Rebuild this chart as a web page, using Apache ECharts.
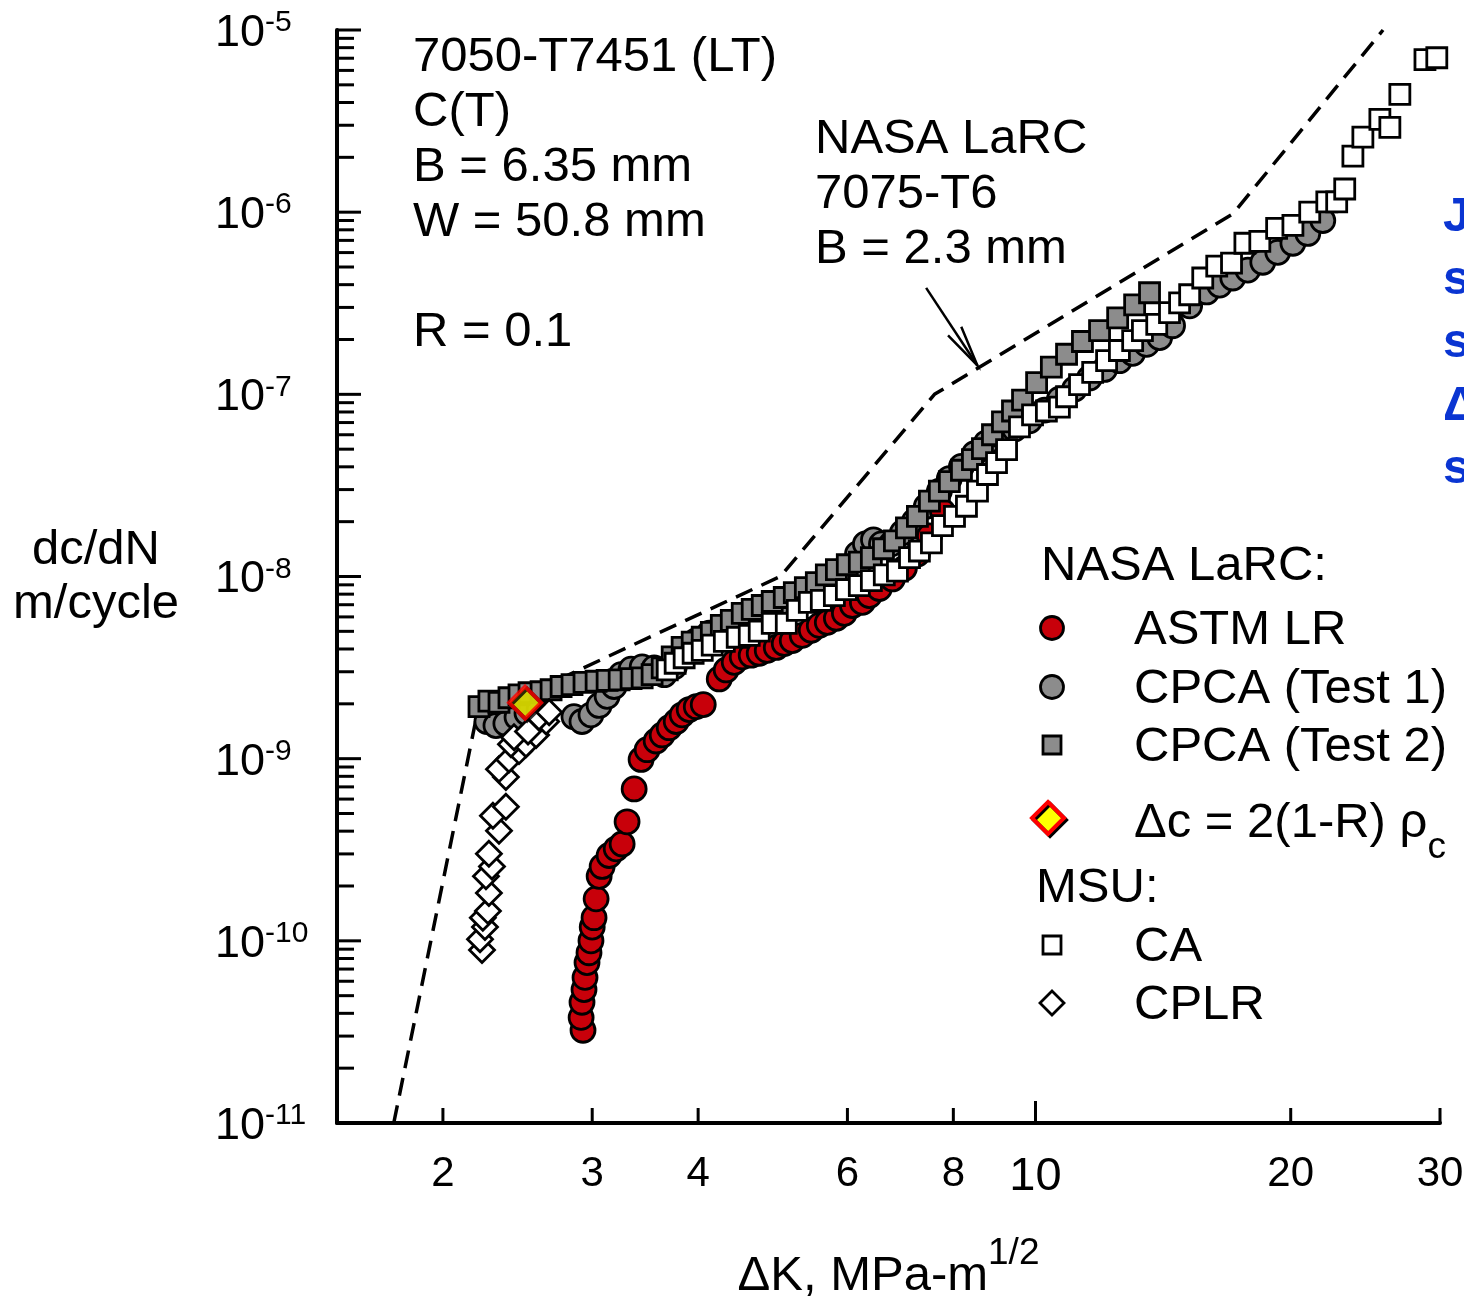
<!DOCTYPE html>
<html><head><meta charset="utf-8">
<script src="https://cdn.jsdelivr.net/npm/echarts@6/dist/echarts.min.js"></script>
<style>html,body{margin:0;padding:0;background:#fff}#c{width:1464px;height:1306px}</style>
</head><body><div id="c"></div>
<script>
// ---------------- DATA ----------------
const astmLR = [[2.926,3.23e-11],[2.911,3.80e-11],[2.918,4.60e-11],[2.934,5.40e-11],[2.942,6.30e-11],[2.958,7.6e-11],[2.974,8.6e-11],[2.990,1.0e-10],[3.0,1.19e-10],[3.015,1.34e-10],[3.032,1.70e-10],[3.057,2.26e-10],[3.082,2.56e-10],[3.141,2.94e-10],[3.202,3.20e-10],[3.254,3.40e-10],[3.298,4.50e-10],[3.362,6.82e-10],[3.426,9.9e-10],[3.483,1.12e-9],[3.569,1.25e-9],[3.628,1.35e-9],[3.698,1.48e-9],[3.769,1.60e-9],[3.830,1.74e-9],[3.904,1.86e-9],[3.980,1.93e-9],[4.056,1.98e-9],[4.236,2.74e-9],[4.317,3.07e-9],[4.412,3.38e-9],[4.509,3.62e-9],[4.620,3.70e-9],[4.722,3.79e-9],[4.826,3.93e-9],[4.946,4.08e-9],[5.054,4.29e-9],[5.165,4.45e-9],[5.307,4.75e-9],[5.439,5.07e-9],[5.559,5.39e-9],[5.681,5.60e-9],[5.823,5.90e-9],[5.951,6.28e-9],[6.082,6.93e-9],[6.249,7.21e-9],[6.368,7.86e-9],[6.543,8.59e-9],[6.780,9.7e-9],[7.004,1.11e-8],[7.256,1.33e-8],[7.497,1.67e-8],[7.767,2.28e-8]];

const cpcaTest1 = [[2.254,1.60e-9],[2.310,1.52e-9],[2.373,1.56e-9],[2.446,1.69e-9],[2.513,1.78e-9],[2.597,1.86e-9],[2.855,1.70e-9],[2.918,1.60e-9],[2.990,1.74e-9],[3.057,1.96e-9],[3.124,2.20e-9],[3.184,2.49e-9],[3.245,2.89e-9],[3.334,3.10e-9],[3.436,3.19e-9],[3.550,3.15e-9],[3.648,2.89e-9],[3.749,3.19e-9],[3.851,3.70e-9],[3.980,4.45e-9],[4.123,4.88e-9],[4.295,5.26e-9],[4.472,5.67e-9],[4.658,6.19e-9],[4.853,6.68e-9],[5.054,7.29e-9],[5.265,7.96e-9],[5.484,8.59e-9],[5.713,9.6e-9],[5.951,1.10e-8],[6.166,1.33e-8],[6.301,1.51e-8],[6.440,1.59e-8],[6.581,1.51e-8],[6.761,1.51e-8],[6.966,1.74e-8],[7.197,2.01e-8],[7.435,2.43e-8],[7.702,2.94e-8],[7.914,3.45e-8],[8.178,4.02e-8],[8.472,4.72e-8],[8.752,5.42e-8],[9.067,6.00e-8],[9.445,6.46e-8],[9.838,7.15e-8],[10.25,8.20e-8],[10.67,9.4e-8],[11.12,1.07e-7],[11.58,1.23e-7],[12.06,1.37e-7],[12.56,1.53e-7],[13.02,1.68e-7],[13.52,1.88e-7],[14.01,2.05e-7],[14.51,2.38e-7],[15.20,3.06e-7],[15.92,3.65e-7],[16.49,3.98e-7],[17.09,4.35e-7],[17.80,4.81e-7],[18.54,5.31e-7],[19.31,6.02e-7],[20.12,6.75e-7],[20.95,7.64e-7],[21.82,9.0e-7]];

const cpcaTest2 = [[2.206,1.93e-9],[2.266,2.07e-9],[2.329,2.04e-9],[2.393,2.16e-9],[2.459,2.24e-9],[2.527,2.30e-9],[2.611,2.33e-9],[2.683,2.39e-9],[2.757,2.49e-9],[2.840,2.55e-9],[2.934,2.62e-9],[3.032,2.66e-9],[3.124,2.69e-9],[3.228,2.71e-9],[3.334,2.75e-9],[3.436,2.78e-9],[3.530,2.89e-9],[3.628,3.15e-9],[3.728,3.62e-9],[3.830,4.08e-9],[3.936,4.36e-9],[4.045,4.64e-9],[4.146,4.94e-9],[4.260,5.39e-9],[4.377,5.74e-9],[4.509,6.28e-9],[4.633,6.60e-9],[4.761,6.93e-9],[4.892,7.29e-9],[5.054,7.67e-9],[5.194,8.16e-9],[5.352,8.69e-9],[5.514,9.25e-9],[5.666,1.02e-8],[5.823,1.09e-8],[5.998,1.16e-8],[6.197,1.20e-8],[6.403,1.27e-8],[6.617,1.42e-8],[6.817,1.57e-8],[7.043,1.85e-8],[7.256,2.14e-8],[7.497,2.59e-8],[7.702,2.94e-8],[7.914,3.32e-8],[8.178,3.83e-8],[8.426,4.38e-8],[8.658,5.03e-8],[8.897,6.00e-8],[9.142,7.06e-8],[9.394,8.10e-8],[9.654,9.3e-8],[10.03,1.16e-7],[10.44,1.41e-7],[10.88,1.66e-7],[11.36,1.95e-7],[11.90,2.24e-7],[12.50,2.63e-7],[13.09,3.10e-7],[13.63,3.61e-7]];

const msuCA = [[3.678,3.07e-9],[3.758,3.34e-9],[3.851,3.58e-9],[3.946,3.79e-9],[4.045,3.93e-9],[4.156,4.20e-9],[4.295,4.40e-9],[4.448,4.64e-9],[4.596,4.75e-9],[4.722,5.01e-9],[4.892,5.53e-9],[5.082,5.53e-9],[5.236,6.51e-9],[5.410,7.21e-9],[5.589,7.39e-9],[5.791,7.86e-9],[5.983,8.48e-9],[6.197,8.91e-9],[6.403,9.5e-9],[6.632,1.02e-8],[6.873,1.07e-8],[7.102,1.27e-8],[7.295,1.38e-8],[7.538,1.53e-8],[7.767,1.90e-8],[8.025,2.14e-8],[8.290,2.43e-8],[8.542,2.94e-8],[8.777,3.63e-8],[8.995,4.22e-8],[9.244,4.97e-8],[9.574,6.63e-8],[9.920,7.71e-8],[10.30,8.10e-8],[10.67,8.51e-8],[10.88,9.7e-8],[11.27,1.13e-7],[11.68,1.32e-7],[12.13,1.53e-7],[12.56,1.74e-7],[13.02,1.97e-7],[13.37,2.24e-7],[13.90,2.42e-7],[14.39,2.81e-7],[14.79,3.18e-7],[15.20,3.52e-7],[15.75,4.35e-7],[16.36,5.06e-7],[17.03,5.25e-7],[17.66,6.75e-7],[18.39,6.92e-7],[19.25,8.14e-7],[20.12,8.46e-7],[21.06,1.0e-6],[22.06,1.14e-6],[22.66,1.14e-6],[23.16,1.34e-6],[23.68,2.03e-6],[24.33,2.58e-6],[25.48,3.23e-6],[26.18,2.92e-6],[26.90,4.43e-6],[28.80,6.87e-6],[29.74,7.04e-6]];

const msuCPLR = [[2.224,8.9e-11],[2.212,1.02e-10],[2.242,1.19e-10],[2.229,1.34e-10],[2.260,1.46e-10],[2.266,1.83e-10],[2.248,2.26e-10],[2.285,2.56e-10],[2.266,3.01e-10],[2.329,4.02e-10],[2.291,4.86e-10],[2.373,5.44e-10],[2.373,7.93e-10],[2.329,8.76e-10],[2.393,9.9e-10],[2.459,1.10e-9],[2.406,1.20e-9],[2.506,1.20e-9],[2.426,1.31e-9],[2.576,1.35e-9],[2.520,1.41e-9],[2.647,1.60e-9],[2.597,1.69e-9],[2.669,1.80e-9]];

const criticalPoint = [[2.50, 2.03e-9]];

const nasa7075Line = [[1.75,1e-11],[2.19,1.68e-9],[5.0,1.0e-8],[7.6,1.0e-7],[17.1,9.8e-7],[25.7,1e-5]];

const arrowLine = [[7.43,3.84e-7],[8.54,1.44e-7]];

const xTickValues = [2,3,4,6,8,10,20,30];
const xTickLabels = ['2','3','4','6','8','10','20','30'];
const yDecadeExponents = [-11,-10,-9,-8,-7,-6,-5];
const yMinorMantissas = [2,3,4,5,6,7,8,9];

const X_MIN = 1.5, X_MAX = 30, Y_MIN = 1e-11, Y_MAX = 1e-5;

// ---------------- STYLE ----------------
const FF = '"Liberation Sans", Arial, Helvetica, sans-serif';
const RED = '#c8000a', GRAY = '#8c8c8c';
const TF = '49px ' + FF;

const yMajorData = yDecadeExponents.map(e => [X_MIN, Math.pow(10, e)]);
const yMinorData = [];
yDecadeExponents.slice(0, -1).forEach(e => yMinorMantissas.forEach(m => yMinorData.push([X_MIN, m * Math.pow(10, e)])));
const xTickData = xTickValues.map(v => [v, Y_MIN]);

const chart = echarts.init(document.getElementById('c'), null, {renderer: 'canvas'});

function scat(name, data, symbol, size, fill, z, extra) {
  return Object.assign({
    name, type: 'scatter', data, symbol, symbolSize: size, z, silent: true,
    itemStyle: {color: fill, borderColor: '#000', borderWidth: 2.8, opacity: 1}
  }, extra || {});
}

const option = {
  animation: false,
  backgroundColor: '#fff',
  grid: {left: 337, right: 24, top: 30, bottom: 174, containLabel: false},
  xAxis: {
    type: 'log', logBase: 10, min: X_MIN, max: X_MAX,
    axisLine: {show: true, lineStyle: {color: '#000', width: 4}},
    axisTick: {show: false}, axisLabel: {show: false}, splitLine: {show: false},
    name: '{a|\u0394K, MPa-m}{b|1/2}', nameLocation: 'middle', nameGap: 112,
    nameTextStyle: {
      rich: {
        a: {fontSize: 49, fontFamily: FF, color: '#000', lineHeight: 66, verticalAlign: 'bottom'},
        b: {fontSize: 37, fontFamily: FF, color: '#000', lineHeight: 37, verticalAlign: 'top'}
      }
    }
  },
  yAxis: {
    type: 'log', logBase: 10, min: Y_MIN, max: Y_MAX,
    axisLine: {show: true, lineStyle: {color: '#000', width: 4}},
    axisTick: {show: false}, axisLabel: {show: false}, splitLine: {show: false}
  },
  graphic: [
    {type: 'text', x: 96, y: 577, style: {text: 'dc/dN\nm/cycle', font: TF, fill: '#000', align: 'center', verticalAlign: 'middle', lineHeight: 54}},
    {type: 'text', x: 413, y: 29.5, style: {text: '7050-T7451 (LT)\nC(T)\nB = 6.35 mm\nW = 50.8 mm\n\nR = 0.1', font: TF, fill: '#000', align: 'left', verticalAlign: 'top', lineHeight: 55}},
    {type: 'text', x: 815, y: 111.5, style: {text: 'NASA LaRC\n7075-T6\nB = 2.3 mm', font: TF, fill: '#000', align: 'left', verticalAlign: 'top', lineHeight: 55}},
    {type: 'text', x: 1443, y: 185.5, style: {text: 'J\ns\ns\n\u0394\ns', font: 'bold 49px ' + FF, fill: '#0a35d2', align: 'left', verticalAlign: 'top', lineHeight: 63}},
    // legend block
    {type: 'text', x: 1041, y: 566, style: {text: 'NASA LaRC:', font: TF, fill: '#000', align: 'left', verticalAlign: 'middle'}},
    {type: 'circle', shape: {cx: 1052, cy: 628, r: 11.5}, style: {fill: RED, stroke: '#000', lineWidth: 2.8}},
    {type: 'text', x: 1134, y: 630, style: {text: 'ASTM LR', font: TF, fill: '#000', align: 'left', verticalAlign: 'middle'}},
    {type: 'circle', shape: {cx: 1052, cy: 687, r: 11.5}, style: {fill: GRAY, stroke: '#000', lineWidth: 2.8}},
    {type: 'text', x: 1134, y: 689, style: {text: 'CPCA (Test 1)', font: TF, fill: '#000', align: 'left', verticalAlign: 'middle'}},
    {type: 'rect', shape: {x: 1043, y: 736, width: 18, height: 18}, style: {fill: GRAY, stroke: '#000', lineWidth: 2.8}},
    {type: 'text', x: 1134, y: 747, style: {text: 'CPCA (Test 2)', font: TF, fill: '#000', align: 'left', verticalAlign: 'middle'}},
    {type: 'polygon', shape: {points: [[1048, 802], [1064, 818], [1048, 834], [1032, 818]]}, style: {fill: '#ffff00', stroke: '#ff0000', lineWidth: 4, shadowColor: '#000', shadowOffsetX: 2, shadowOffsetY: 2, shadowBlur: 0}},
    {type: 'text', x: 1134, y: 799, style: {text: '{a|\u0394c = 2(1-R) \u03c1}{b|c}', align: 'left', verticalAlign: 'top', rich: {
      a: {fontSize: 49, fontFamily: FF, fill: '#000', lineHeight: 49, verticalAlign: 'top'},
      b: {fontSize: 37, fontFamily: FF, fill: '#000', lineHeight: 67, verticalAlign: 'bottom'}
    }}},
    {type: 'text', x: 1036, y: 888, style: {text: 'MSU:', font: TF, fill: '#000', align: 'left', verticalAlign: 'middle'}},
    {type: 'rect', shape: {x: 1043, y: 936, width: 18, height: 18}, style: {fill: '#fff', stroke: '#000', lineWidth: 2.8}},
    {type: 'text', x: 1134, y: 947, style: {text: 'CA', font: TF, fill: '#000', align: 'left', verticalAlign: 'middle'}},
    {type: 'polygon', shape: {points: [[1052, 991], [1064, 1003], [1052, 1015], [1040, 1003]]}, style: {fill: '#fff', stroke: '#000', lineWidth: 2.8}},
    {type: 'text', x: 1134, y: 1005, style: {text: 'CPLR', font: TF, fill: '#000', align: 'left', verticalAlign: 'middle'}}
  ],
  series: [
    {
      type: 'custom', name: 'xticks', data: xTickData, silent: true, z: 10, clip: false,
      renderItem: function (params, api) {
        const v = api.value(0);
        const p = api.coord([v, Y_MIN]);
        const big = (v === 10);
        const len = big ? 22 : 15;
        return {type: 'group', children: [
          {type: 'line', shape: {x1: p[0], y1: p[1], x2: p[0], y2: p[1] - len}, style: {stroke: '#000', lineWidth: 3}},
          {type: 'text', x: p[0], y: p[1] + (big ? 54 : 51), style: {text: xTickLabels[params.dataIndex], font: (big ? '47px ' : '42px ') + FF, fill: '#000', align: 'center', verticalAlign: 'middle'}}
        ]};
      }
    },
    {
      type: 'custom', name: 'ymajor', data: yMajorData, silent: true, z: 10, clip: false,
      renderItem: function (params, api) {
        const p = api.coord([X_MIN, api.value(1)]);
        const e = yDecadeExponents[params.dataIndex];
        return {type: 'group', children: [
          {type: 'line', shape: {x1: p[0], y1: p[1], x2: p[0] + 24, y2: p[1]}, style: {stroke: '#000', lineWidth: 3}},
          {type: 'text', x: p[0] - 122, y: p[1] + 2, style: {text: '{a|10}{b|' + e + '}', align: 'left', verticalAlign: 'middle', rich: {
            a: {fontSize: 45, fontFamily: FF, fill: '#000', lineHeight: 48, verticalAlign: 'bottom'},
            b: {fontSize: 30, fontFamily: FF, fill: '#000', lineHeight: 30, verticalAlign: 'top'}
          }}}
        ]};
      }
    },
    {
      type: 'custom', name: 'yminor', data: yMinorData, silent: true, z: 10, clip: false,
      renderItem: function (params, api) {
        const p = api.coord([X_MIN, api.value(1)]);
        return {type: 'line', shape: {x1: p[0], y1: p[1], x2: p[0] + 17, y2: p[1]}, style: {stroke: '#000', lineWidth: 3}};
      }
    },
    {
      type: 'line', name: 'NASA LaRC 7075-T6', data: nasa7075Line, symbol: 'none', silent: true, z: 2,
      lineStyle: {color: '#000', width: 3.5, type: [18, 10]}
    },
    {
      type: 'custom', name: 'arrow', data: [arrowLine[0].concat(arrowLine[1])], silent: true, z: 3, clip: false,
      renderItem: function (params, api) {
        const a = api.coord([api.value(0), api.value(1)]);
        const b = api.coord([api.value(2), api.value(3)]);
        const ang = Math.atan2(a[1] - b[1], a[0] - b[0]);
        const L = 42, w = 0.19;
        const h1 = [b[0] + L * Math.cos(ang + w), b[1] + L * Math.sin(ang + w)];
        const h2 = [b[0] + L * Math.cos(ang - w), b[1] + L * Math.sin(ang - w)];
        return {type: 'group', children: [
          {type: 'line', shape: {x1: a[0], y1: a[1], x2: b[0], y2: b[1]}, style: {stroke: '#000', lineWidth: 2.5}},
          {type: 'polyline', shape: {points: [h1, b, h2]}, style: {stroke: '#000', lineWidth: 2.5, fill: null}}
        ]};
      }
    },
    scat('CPCA (Test 1)', cpcaTest1, 'circle', 24, GRAY, 4),
    scat('ASTM LR', astmLR, 'circle', 24, RED, 5),
    scat('CPCA (Test 2)', cpcaTest2, 'rect', 20, GRAY, 6),
    scat('CPLR', msuCPLR, 'diamond', 25, '#fff', 7),
    scat('CA', msuCA, 'rect', 20, '#fff', 8),
    scat('critical', criticalPoint, 'diamond', 32, '#ffff00', 9, {itemStyle: {color: '#ffff00', borderColor: '#ff0000', borderWidth: 4, shadowColor: '#000', shadowOffsetX: 2, shadowOffsetY: 2, shadowBlur: 0}})
  ]
};
chart.setOption(option);
</script>
</body></html>
